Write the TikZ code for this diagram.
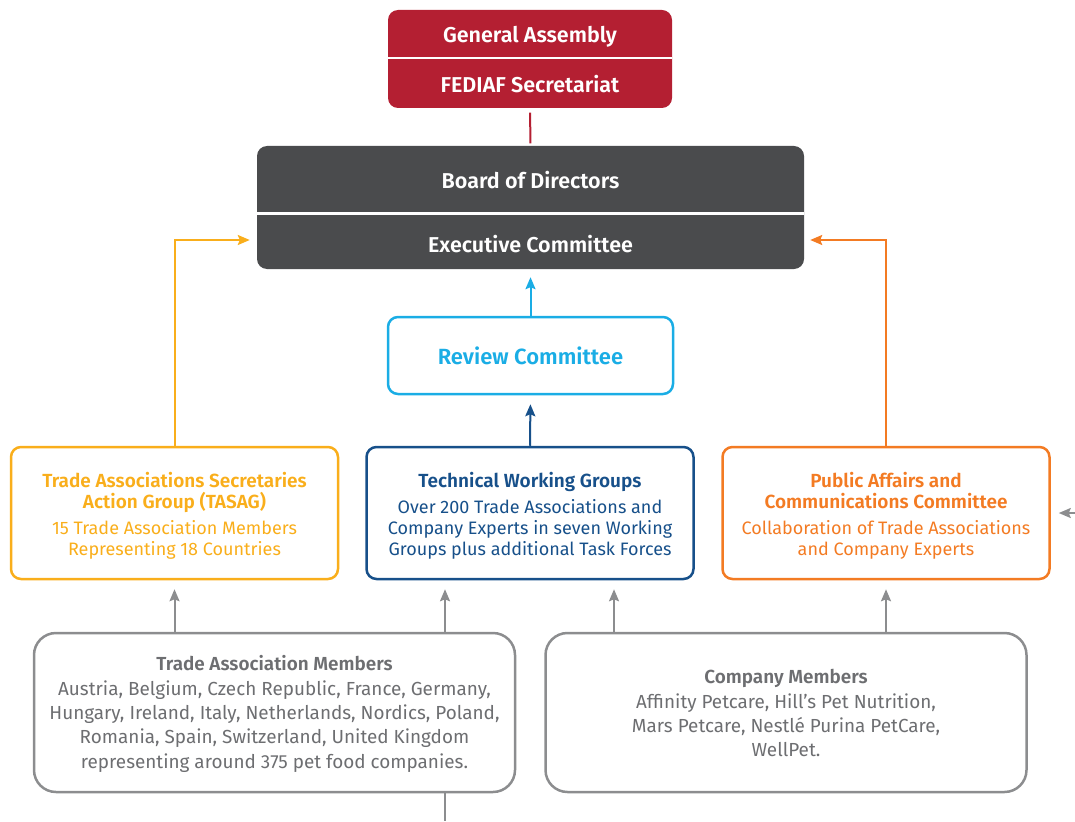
\documentclass[tikz,border=0pt]{standalone}
\usepackage{fontspec}
\setmainfont{Fira Sans}[BoldFont={Fira Sans SemiBold}]
\usetikzlibrary{arrows.meta}
\definecolor{fedred}{HTML}{B41F32}
\definecolor{boardgray}{HTML}{4A4B4D}
\definecolor{tasagyel}{HTML}{F9AE1B}
\definecolor{twgblue}{HTML}{17508A}
\definecolor{paorange}{HTML}{F37B23}
\definecolor{revcyan}{HTML}{1AADE5}
\definecolor{memgray}{HTML}{6D6E71}
\definecolor{linegray}{HTML}{8C8D8F}
\newcommand{\grouptitle}[1]{{\fontsize{19}{21}\selectfont\bfseries #1}}

\begin{document}
\begin{tikzpicture}[x=1pt,y=-1pt,
    head/.style={text=white,font=\fontsize{21.5}{24}\selectfont\bfseries,inner sep=0pt,text height=17pt,text depth=0pt},
    groupbox/.style={draw,line width=2.5pt,rounded corners=10pt,minimum width=327pt,minimum height=132pt,
      align=center,inner sep=0pt,font=\fontsize{18}{21}\selectfont},
    memberbox/.style={draw=linegray,line width=2.5pt,rounded corners=22pt,minimum width=481pt,minimum height=159pt,
      align=center,inner sep=0pt,text=memgray,font=\fontsize{18.9}{24.3}\selectfont},
    tip/.style={-{Stealth[length=12pt,width=10pt,inset=2pt]},line width=2pt}]
  \useasboundingbox (0,0) rectangle (1075,821);
  % top
  \fill[fedred,rounded corners=10pt] (388,10) rectangle (672,108);
  \node[head,minimum width=284pt,minimum height=48pt] (assembly) at (530,34) {General Assembly};
  \node[head,minimum width=284pt,minimum height=48pt] (secretariat) at (530,84.5) {FEDIAF Secretariat};
  \draw[white,line width=2.5pt] (assembly.south west) -- (assembly.south east);
  \fill[boardgray,rounded corners=10pt] (257,146) rectangle (804,269);
  \node[head,minimum width=547pt,minimum height=67pt,text height=16pt] (board) at (530.5,180) {Board of Directors};
  \node[head,minimum width=547pt,minimum height=52pt,text height=21pt] (exec) at (530.5,242) {Executive Committee};
  \draw[white,line width=3pt] (board.south west) -- (board.south east);
  \draw[fedred,line width=2pt,shorten <=4pt,shorten >=3pt] (secretariat.south) -- (board.north);
  % review
  \node[draw=revcyan,line width=2.5pt,rounded corners=10pt,minimum width=285pt,minimum height=77pt,
    text=revcyan,font=\fontsize{22}{24}\selectfont\bfseries] (review) at (530.5,355.5) {Review Committee};
  % groups
  \node[groupbox,draw=tasagyel,text=tasagyel] (tasag) at (174.5,513)
    {\rule{0pt}{21pt}\grouptitle{Trade Associations Secretaries}\\\grouptitle{Action Group (TASAG)}\\[5pt]15 Trade Association Members\\Representing 18 Countries};
  \node[groupbox,draw=twgblue,text=twgblue] (twg) at (530,513)
    {\rule{0pt}{21pt}\grouptitle{Technical Working Groups}\\[5pt]Over 200 Trade Associations and\\Company Experts in seven Working\\Groups plus additional Task Forces};
  \node[groupbox,draw=paorange,text=paorange] (pacc) at (886,513)
    {\rule{0pt}{21pt}\grouptitle{Public Affairs and}\\\grouptitle{Communications Committee}\\[5pt]Collaboration of Trade Associations\\and Company Experts};
  % members
  \node[memberbox] (trademem) at (274.5,712.5)
    {\rule{0pt}{18pt}\textbf{Trade Association Members}\\Austria, Belgium, Czech Republic, France, Germany,\\Hungary, Ireland, Italy, Netherlands, Nordics, Poland,\\Romania, Spain, Switzerland, United Kingdom\\representing around 375 pet food companies.};
  \node[memberbox] (compmem) at (786,712.5)
    {\rule{0pt}{16pt}\textbf{Company Members}\\Affinity Petcare, Hill’s Pet Nutrition,\\Mars Petcare, Nestlé Purina PetCare,\\WellPet.};
  \coordinate (colb) at (445,0);
  \coordinate (colc) at (614,0);
  \coordinate (offbottom) at (445,821);
  \coordinate (offright) at (1075,513);
  % arrows
  \draw[tip,tasagyel] (tasag.north) |- ([xshift=-7pt,yshift=2pt]exec.west);
  \draw[tip,paorange] (pacc.north) |- ([xshift=6pt,yshift=2pt]exec.east);
  \draw[tip,revcyan,shorten >=9pt] (review.north) -- (exec.south);
  \draw[tip,twgblue,shorten >=9pt] (twg.north) -- (review.south);
  \draw[tip,linegray,shorten >=9pt] (tasag |- trademem.north) -- (tasag.south);
  \draw[tip,linegray,shorten >=9pt] (colb |- trademem.north) -- (colb |- twg.south);
  \draw[tip,linegray,shorten >=9pt] (colc |- compmem.north) -- (colc |- twg.south);
  \draw[tip,linegray,shorten >=9pt] (pacc |- compmem.north) -- (pacc.south);
  \draw[tip,linegray,shorten >=8pt] (offright) -- (pacc.east);
  \draw[linegray,line width=2pt] (colb |- trademem.south) -- (offbottom);
\end{tikzpicture}
\end{document}
